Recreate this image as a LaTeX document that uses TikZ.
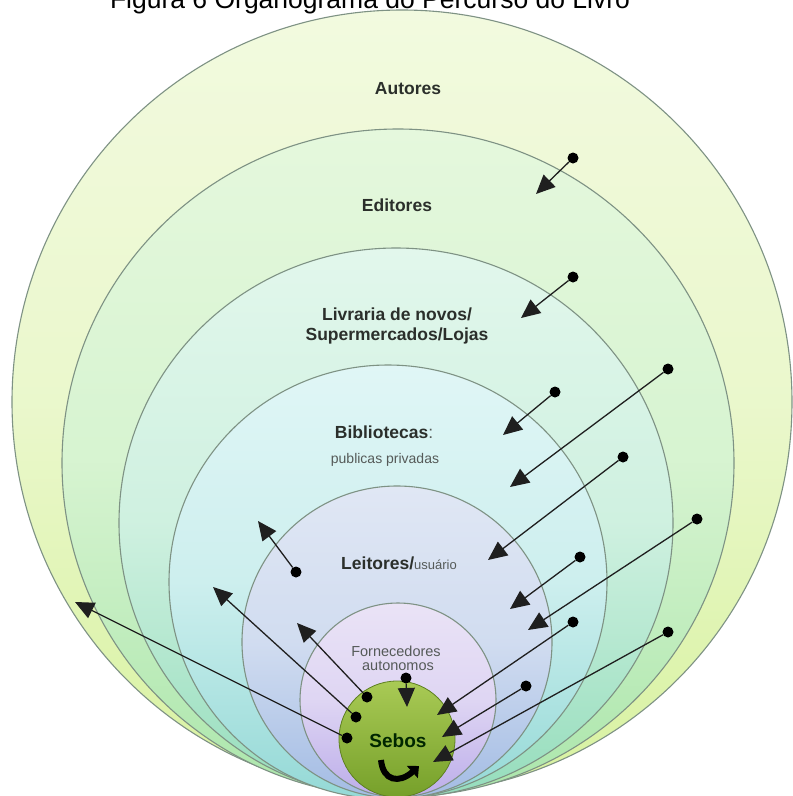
\documentclass[tikz,border=0pt]{standalone}
\usepackage{fontspec}
\setmainfont{Liberation Sans}
\usetikzlibrary{arrows.meta}
\definecolor{ringline}{HTML}{7E9284}
\definecolor{labelc}{HTML}{2B2F2B}
\definecolor{smallc}{HTML}{555A58}
\definecolor{c1t}{HTML}{F2FADF}\definecolor{c1b}{HTML}{D8F2A0}
\definecolor{c2t}{HTML}{E5F8DD}\definecolor{c2b}{HTML}{ABE6AB}
\definecolor{c3t}{HTML}{E2F7EC}\definecolor{c3b}{HTML}{95DDBC}
\definecolor{c4t}{HTML}{E0F6F6}\definecolor{c4b}{HTML}{94D9D6}
\definecolor{c5t}{HTML}{E0E7F4}\definecolor{c5b}{HTML}{A3BCE4}
\definecolor{c6t}{HTML}{EAE3F6}\definecolor{c6b}{HTML}{BCADEA}
\definecolor{sebt}{HTML}{A9CA55}\definecolor{sebb}{HTML}{76A02A}
\begin{document}
\begin{tikzpicture}[x=1pt,y=-1pt,
  ring/.style={draw=ringline, line width=1.1pt},
  dot/.style={circle, fill=black, inner sep=0pt, minimum size=11pt},
  conn/.style={draw=black!88, line width=1.3pt, -{Triangle[length=19pt,width=17pt]}},
  big/.style={anchor=base, inner sep=0pt, text=labelc, font=\fontsize{17.5}{21}\selectfont\bfseries, align=center},
  small/.style={anchor=base, inner sep=0pt, text=smallc, font=\fontsize{14}{15}\selectfont, align=center}]
\fill[white] (0,0) rectangle (793,796);
\useasboundingbox (0,0) rectangle (793,796);
\begin{scope}
\clip (0,0) rectangle (793,796);
% rings
\shade[ring, top color=c1t, bottom color=c1b, middle color=c1t!70!c1b] (402,402) ellipse [x radius=390pt, y radius=392pt];
\shade[ring, top color=c2t, bottom color=c2b, middle color=c2t!75!c2b] (398,463) ellipse [x radius=336pt, y radius=334pt];
\shade[ring, top color=c3t, bottom color=c3b, middle color=c3t!75!c3b] (396,523) ellipse [x radius=277pt, y radius=275pt];
\shade[ring, top color=c4t, bottom color=c4b, middle color=c4t!75!c4b] (388,582) ellipse [x radius=219pt, y radius=217pt];
\shade[ring, top color=c5t, bottom color=c5b, middle color=c5t!75!c5b] (397,642) ellipse [x radius=155pt, y radius=156pt];
\shade[ring, top color=c6t, bottom color=c6b, middle color=c6t!75!c6b] (398,700) ellipse [x radius=98pt, y radius=97pt];
\shade[draw=sebb!80!black, line width=0.8pt, top color=sebt, bottom color=sebb] (397,739) circle (58pt);
% title (cut off at the top, as in the reference)
\node[anchor=base, inner sep=0pt, font=\fontsize{26.5}{30}\selectfont] (title) at (370,8) {Figura 6 Organograma do Percurso do Livro};
\end{scope}
% labels
\node[big] (autores) at (408,94) {Autores};
\node[big] (editores) at (397,211) {Editores};
\node[big] (livraria1) at (397,320) {Livraria de novos/};
\node[big] (livraria2) at (397,340) {Supermercados/Lojas};
\node[big] (biblio) at (384,438) {Bibliotecas\textmd{\color{smallc}:}};
\node[small] (pubpriv) at (385,463) {publicas privadas};
\node[big] (leitores) at (399,569) {Leitores/\textmd{\fontsize{13}{14}\selectfont\color{smallc}usuário}};
\node[small, font=\fontsize{14.5}{15}\selectfont] (forn1) at (396,656) {Fornecedores};
\node[small, font=\fontsize{14.5}{15}\selectfont] (forn2) at (398,670) {autonomos};
\node[anchor=base, inner sep=0pt, text=black!85!green, font=\fontsize{19}{22}\selectfont\bfseries] (sebos) at (398,747) {Sebos};
% curved arrow in Sebos
\coordinate (cs) at (381,760);
\coordinate (ce) at (419,766);
\draw[line width=6pt, -{Triangle[length=9pt,width=16pt]}] (cs) .. controls (383,781) and (399,784) .. (ce);
% inward arrows (dot -> head)
\node[dot] (d1) at (573,158) {};  \coordinate (h1) at (536,194);
\node[dot] (d2) at (573,277) {};  \coordinate (h2) at (521,318);
\node[dot] (d3) at (555,392) {};  \coordinate (h3) at (503,435);
\node[dot] (d4) at (668,369) {};  \coordinate (h4) at (510,487);
\node[dot] (d5) at (623,457) {};  \coordinate (h5) at (488,560);
\node[dot] (d6) at (580,557) {};  \coordinate (h6) at (510,609);
\node[dot] (d7) at (697,519) {};  \coordinate (h7) at (528,630);
\node[dot] (d8) at (573,622) {};  \coordinate (h8) at (437,715);
\node[dot] (d9) at (526,686) {};  \coordinate (h9) at (442,737);
\node[dot] (d10) at (668,632) {}; \coordinate (h10) at (433,762);
\node[dot] (d11) at (406,678) {}; \coordinate (h11) at (407,707);
% outward arrows
\node[dot] (e1) at (296,572) {};  \coordinate (g1) at (258,521);
\node[dot] (e2) at (367,697) {};  \coordinate (g2) at (297,623);
\node[dot] (e3) at (356,717) {};  \coordinate (g3) at (213,587);
\node[dot] (e4) at (347,738) {};  \coordinate (g4) at (75,602);
\foreach \i in {1,...,11} {\draw[conn] (d\i) -- (h\i);}
\foreach \i in {1,...,4} {\draw[conn] (e\i) -- (g\i);}
\end{tikzpicture}
\end{document}
